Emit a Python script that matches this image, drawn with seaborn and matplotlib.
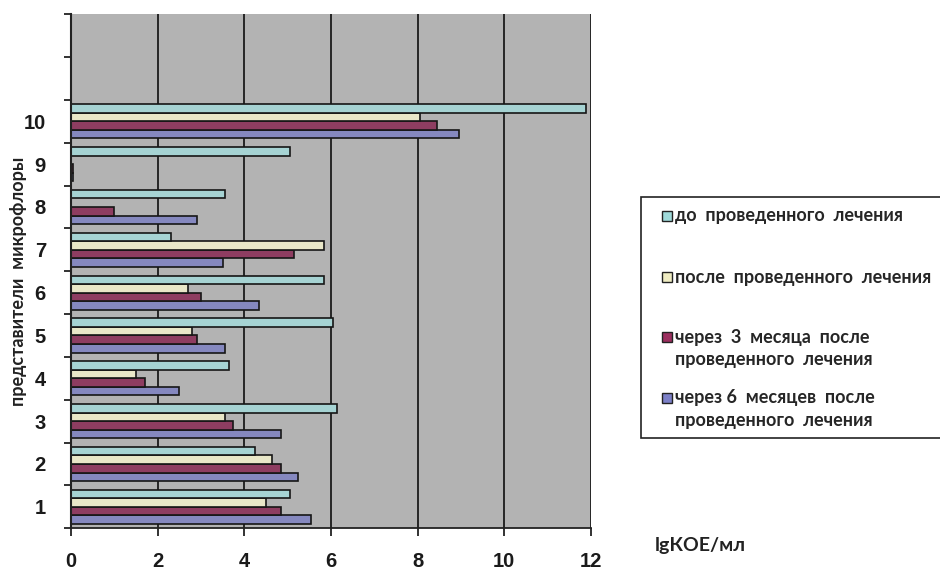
import pandas as pd
import numpy as np
import matplotlib.pyplot as plt
import seaborn as sns
from matplotlib.patches import Rectangle

# microflora groups 1..10, values in lgКОЕ/мл
groups = list(range(1, 11))
before = [5.05, 4.25, 6.15, 3.65, 6.05, 5.85, 2.3, 3.55, 5.05, 11.9]
after = [4.5, 4.65, 3.55, 1.5, 2.8, 2.7, 5.85, 0.0, 0.0, 8.05]
month3 = [4.85, 4.85, 3.75, 1.7, 2.9, 3.0, 5.15, 1.0, 0.05, 8.45]
month6 = [5.55, 5.25, 4.85, 2.5, 3.55, 4.35, 3.5, 2.9, 0.05, 8.95]

series = ["до проведенного лечения", "после проведенного лечения",
          "через 3 месяца после проведенного лечения",
          "через 6 месяцев после проведенного лечения"]
legend_lines = [["до  проведенного  лечения"],
                ["после  проведенного  лечения"],
                ["через  3  месяца  после", "проведенного  лечения"],
                ["через 6  месяцев  после", "проведенного  лечения"]]
colors = ["#9fdada", "#efecc2", "#9c2f5f", "#7c80c8"]
x_ticks = [0, 2, 4, 6, 8, 10, 12]

df = pd.DataFrame({
    "group": groups * 4,
    "value": before + after + month3 + month6,
    "series": np.repeat(series, len(groups)),
})

plt.rcParams["font.family"] = ["Lato", "DejaVu Sans"]
tick_font = ["Liberation Sans", "DejaVu Sans"]

fig = plt.figure(figsize=(9.4, 5.71), dpi=100)
ax = fig.add_axes([0.0755, 0.075, 0.553, 0.90])
ax.set_facecolor("#b3b3b3")

# first hue level lands lowest, so reverse to get "до" on top
sns.barplot(data=df, y="group", x="value", hue="series", orient="h",
            native_scale=True, hue_order=series[::-1],
            palette=dict(zip(series, colors)), width=0.8, errorbar=None,
            edgecolor="#161616", linewidth=1.2, legend=False, ax=ax)

ax.set_xlim(0, 12)
ax.set_ylim(0.5, 12.5)
ax.set_xticks(x_ticks)
ax.set_xticklabels([str(t) for t in x_ticks], fontsize=14.5, fontweight="bold",
                   family=tick_font, color="#1a1a1a")
ax.set_yticks(np.arange(0.5, 13, 1))
ax.set_yticklabels([])
ax.set_yticks(groups, minor=True)
ax.set_yticklabels([str(g) for g in groups], minor=True, fontsize=14.5,
                   fontweight="bold", family=tick_font, color="#1a1a1a")
ax.tick_params(axis="y", which="major", length=5, width=1.3, color="#222222")
ax.tick_params(axis="y", which="minor", length=0, pad=18)
ax.tick_params(axis="x", length=6, width=1.3, color="#222222", pad=11)

ax.grid(axis="x", color="#262626", linewidth=1.4)
ax.grid(axis="y", visible=False)
ax.set_axisbelow(True)
for side in ["top", "right"]:
    ax.spines[side].set_visible(False)
ax.spines["left"].set_color("#222222")
ax.spines["left"].set_linewidth(1.5)
ax.spines["bottom"].set_color("#222222")
ax.spines["bottom"].set_linewidth(1.3)

ax.set_xlabel("")
ax.set_ylabel("представители  микрофлоры", fontsize=13, fontweight="bold",
              color="#222222")
ax.yaxis.set_label_coords(-0.085, 0.48)

fig.text(700 / 940, 1 - 546 / 571, "lgКОЕ/мл", fontsize=14,
         fontweight="bold", color="#222222", ha="center", va="center")

# legend box, drawn by hand to follow the uneven spacing of the original
fig.patches.append(Rectangle((641 / 940, 1 - 438 / 571), 310 / 940, 241 / 571,
                             transform=fig.transFigure, facecolor="white",
                             edgecolor="#222222", linewidth=1.2))
entry_y = [216, 277, 337, 398]
for lines, col, y in zip(legend_lines, colors, entry_y):
    fig.patches.append(Rectangle((662 / 940, 1 - (y + 5) / 571), 10 / 940, 10 / 571,
                                 transform=fig.transFigure, facecolor=col,
                                 edgecolor="#222222", linewidth=1.0))
    for i, line in enumerate(lines):
        fig.text(675 / 940, 1 - (y + 22.5 * i) / 571, line, fontsize=13,
                 fontweight="bold", color="#262626", va="center", ha="left")

fig.savefig("out.png", dpi=100)
